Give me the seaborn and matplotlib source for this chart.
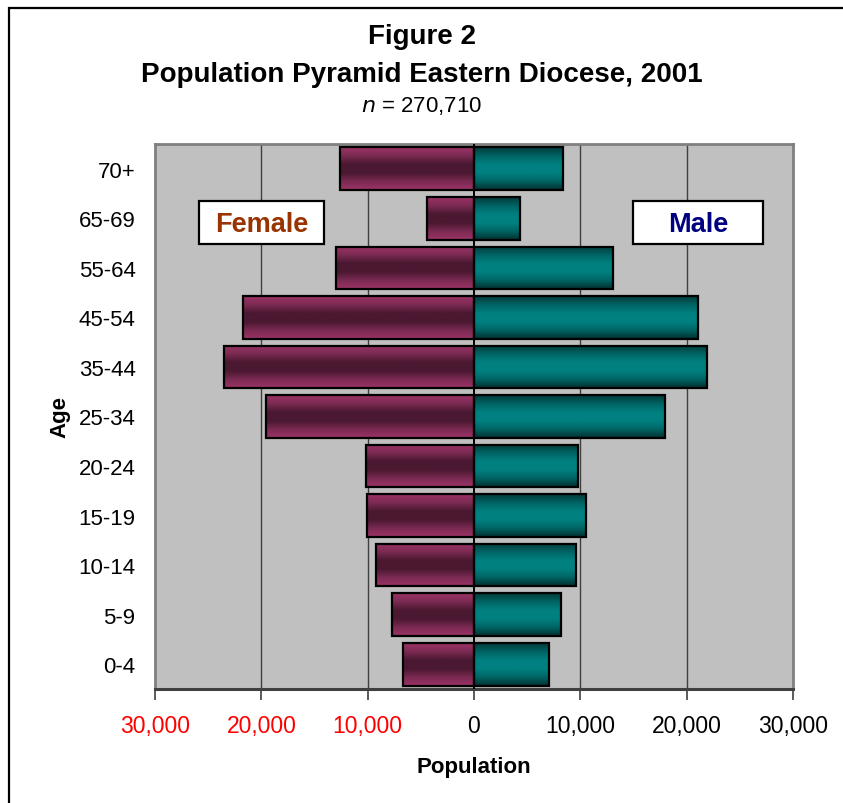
import numpy as np
import pandas as pd
import matplotlib
matplotlib.use("Agg")
import matplotlib.pyplot as plt
from matplotlib.colors import LinearSegmentedColormap
from matplotlib.patches import Rectangle
import seaborn as sns

# Age groups, top row first
ages = ["70+", "65-69", "55-64", "45-54", "35-44", "25-34",
        "20-24", "15-19", "10-14", "5-9", "0-4"]
female = [12600, 4400, 13000, 21700, 23500, 19600, 10200, 10100, 9200, 7700, 6700]
male = [8400, 4300, 13100, 21100, 21900, 18000, 9800, 10500, 9600, 8200, 7100]
xticks = [-30000, -20000, -10000, 0, 10000, 20000, 30000]
xtick_labels = ["30,000", "20,000", "10,000", "0", "10,000", "20,000", "30,000"]

sns.set_theme(style="white")
plt.rcParams["font.family"] = ["Liberation Sans", "DejaVu Sans"]
plt.rcParams["text.color"] = "black"
plt.rcParams["axes.labelcolor"] = "black"
plt.rcParams["xtick.color"] = "black"
plt.rcParams["ytick.color"] = "black"

df = pd.DataFrame({"Age": ages, "Female": [-v for v in female], "Male": male})

fig = plt.figure(figsize=(8.43, 8.04), dpi=100)
ax = fig.add_axes([155 / 843, 1 - 690 / 804, 638 / 843, 545 / 804])
ax.set_facecolor("#c0c0c0")

sns.barplot(data=df, x="Female", y="Age", order=ages, orient="h",
            width=0.86, color="#993366", ax=ax, zorder=3)
n_female = len(ax.patches)
sns.barplot(data=df, x="Male", y="Age", order=ages, orient="h",
            width=0.86, color="#008080", ax=ax, zorder=3)

# Cylinder-style shading across each bar's height
t = np.linspace(0, 1, 64)
f_cmap = LinearSegmentedColormap.from_list(
    "f", ["#9b3366", "#7a2a52", "#4a1830", "#4a1830", "#7a2a52", "#9b3366"])
m_cmap = LinearSegmentedColormap.from_list(
    "m", ["#003c3c", "#006464", "#008080", "#008080", "#006464", "#003030"])
grad = t.reshape(-1, 1)

for i, p in enumerate(list(ax.patches)):
    x, y = p.get_x(), p.get_y()
    w, h = p.get_width(), p.get_height()
    cmap = f_cmap if i < n_female else m_cmap
    ax.imshow(grad, cmap=cmap, aspect="auto", interpolation="bilinear",
              extent=[x, x + w, y + h, y], zorder=2.5)
    p.set_facecolor("none")
    p.set_edgecolor("black")
    p.set_linewidth(1.6)

ax.set_xlim(-30000, 30000)
ax.set_ylim(len(ages) - 0.5, -0.5)

# Vertical grid lines and centre axis
for v in xticks[1:-1]:
    ax.axvline(v, color="#000000" if v == 0 else "#404040",
               lw=1.4 if v == 0 else 1.0, zorder=1 if v else 4)

ax.set_xticks(xticks)
ax.set_xticklabels(xtick_labels, fontsize=16.5)
for lbl, v in zip(ax.get_xticklabels(), xticks):
    lbl.set_color("red" if v < 0 else "black")
ax.tick_params(axis="x", direction="out", length=8, width=1.2,
               color="#404040", pad=10, bottom=True)
ax.tick_params(axis="y", length=0, labelsize=16, pad=14)

for side in ["top", "left", "right"]:
    ax.spines[side].set_color("#808080")
    ax.spines[side].set_linewidth(2)
ax.spines["bottom"].set_color("#404040")
ax.spines["bottom"].set_linewidth(2.2)

ax.set_xlabel("Population", fontsize=16, fontweight="bold", labelpad=14)
ax.set_ylabel("Age", fontsize=16, fontweight="bold", labelpad=6)

# Series labels in boxes
for (x0, x1), text, col in [((0.069, 0.265), "Female", "#993300"),
                            ((0.749, 0.953), "Male", "#000080")]:
    y0, y1 = 0.8165, 0.8954
    ax.add_patch(Rectangle((x0, y0), x1 - x0, y1 - y0, transform=ax.transAxes,
                           facecolor="white", edgecolor="black", lw=1.6, zorder=6))
    ax.text((x0 + x1) / 2, (y0 + y1) / 2 - 0.002, text, transform=ax.transAxes,
            ha="center", va="center", fontsize=19.5, fontweight="bold",
            color=col, zorder=7)

# Titles
fig.text(0.5, 1 - 37 / 804, "Figure 2", ha="center", va="center",
         fontsize=20, fontweight="bold")
fig.text(0.5, 1 - 75 / 804, "Population Pyramid Eastern Diocese, 2001",
         ha="center", va="center", fontsize=20, fontweight="bold")
fig.text(0.5, 1 - 106 / 804, r"$\it{n}$ = 270,710", ha="center", va="center",
         fontsize=16)

# Outer chart border
fig.add_artist(Rectangle((8.5 / 843, -0.05), 1.2, 1.05 - 8.5 / 804,
                         transform=fig.transFigure, facecolor="none",
                         edgecolor="black", lw=1.6))

fig.savefig("out.png", dpi=100, facecolor="white")
